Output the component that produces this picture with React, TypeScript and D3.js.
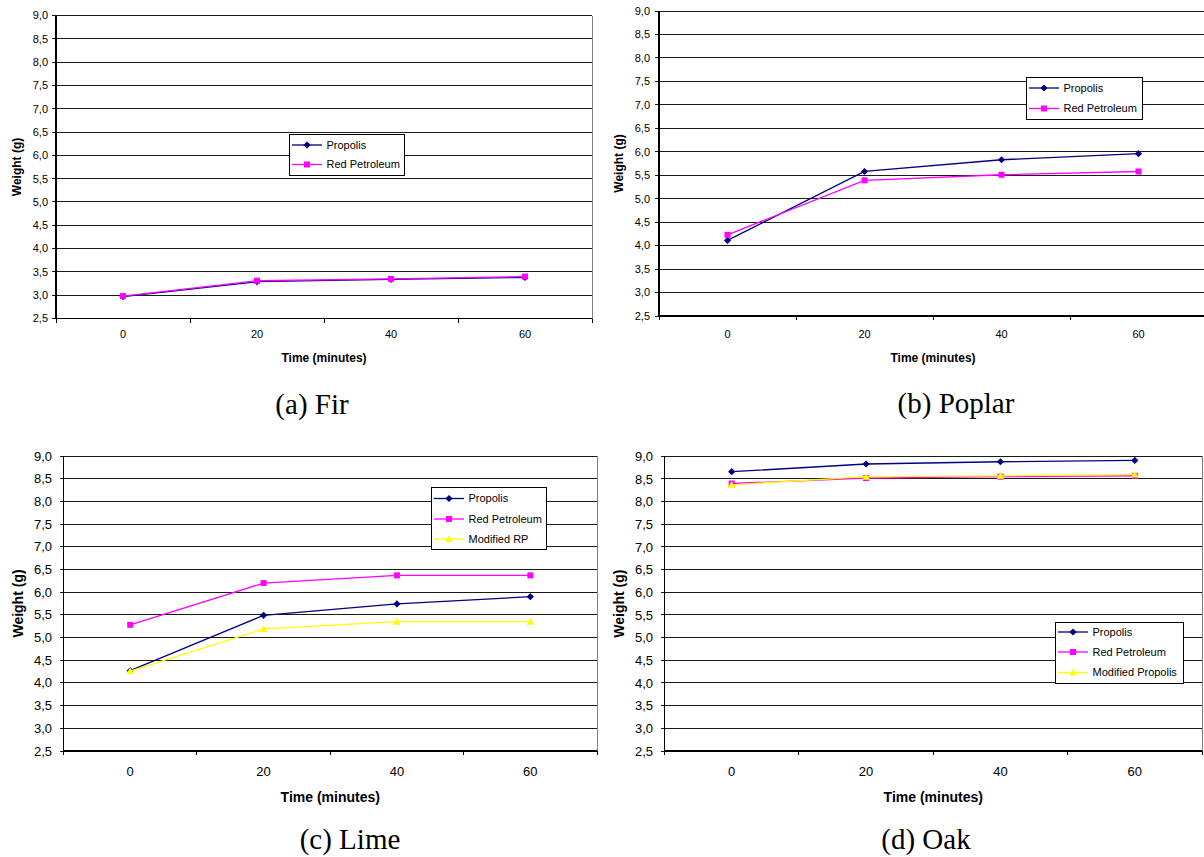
import React from "react";
import * as d3 from "d3";

const times = ["0", "20", "40", "60"];
const yTicks = [2.5, 3.0, 3.5, 4.0, 4.5, 5.0, 5.5, 6.0, 6.5, 7.0, 7.5, 8.0, 8.5, 9.0];

const firPropolis = [2.97, 3.29, 3.34, 3.38];
const firRedPetroleum = [2.98, 3.31, 3.35, 3.40];

const poplarPropolis = [4.11, 5.58, 5.83, 5.96];
const poplarRedPetroleum = [4.23, 5.39, 5.51, 5.58];

const limePropolis = [4.27, 5.49, 5.74, 5.9];
const limeRedPetroleum = [5.28, 6.2, 6.37, 6.37];
const limeModifiedRP = [4.26, 5.19, 5.35, 5.35];

const oakPropolis = [8.66, 8.83, 8.88, 8.91];
const oakRedPetroleum = [8.4, 8.52, 8.55, 8.57];
const oakModifiedPropolis = [8.37, 8.55, 8.57, 8.6];

const NAVY = "#000080";
const MAGENTA = "#FF00FF";
const YELLOW = "#FFFF00";

type Series = { name: string; values: number[]; color: string; marker: "diamond" | "square" | "triangle" };

function markerPath(kind: string) {
  if (kind === "diamond") return "M0,-3.6L3.6,0L0,3.6L-3.6,0Z";
  if (kind === "square") return "M-3,-3L3,-3L3,3L-3,3Z";
  return "M0,-3.8L3.8,3L-3.8,3Z";
}

type PanelProps = {
  series: Series[];
  x0: number; x1: number; y0: number; y1: number;
  tickFont: number; titleFont: number;
  yLabelRight: number; xLabelY: number;
  yTitleX: number; xTitleY: number;
  legend: { x: number; y: number; w: number; h: number; rows: number[] };
  caption: string; capX: number; capY: number;
  clipRight?: number;
};

function Panel(p: PanelProps) {
  const x = d3.scaleBand<string>().domain(times).range([p.x0, p.x1]).paddingInner(0).paddingOuter(0);
  const y = d3.scaleLinear().domain([2.5, 9]).range([p.y1, p.y0]);
  const line = d3
    .line<number>()
    .x((_, i) => (x(times[i]) as number) + x.bandwidth() / 2)
    .y((v) => y(v));
  const bounds = [...times.map((t) => x(t) as number), p.x1];
  return (
    <g>
      {yTicks.map((t) => (
        <g key={t}>
          <line x1={p.x0 - 4} x2={p.x1} y1={y(t)} y2={y(t)} stroke="#1a1a1a" strokeWidth={1} shapeRendering="crispEdges" />
          <text x={p.yLabelRight} y={y(t)} dy="0.35em" textAnchor="end" fontSize={p.tickFont} fontFamily="Liberation Sans, Arial, sans-serif">
            {d3.format(".1f")(t).replace(".", ",")}
          </text>
        </g>
      ))}
      <line x1={p.x1} x2={p.x1} y1={p.y0} y2={p.y1} stroke="#808080" strokeWidth={1} shapeRendering="crispEdges" />
      <line x1={p.x0} x2={p.x0} y1={p.y0} y2={p.y1} stroke="#000" strokeWidth={1.2} shapeRendering="crispEdges" />
      <line x1={p.x0} x2={p.x1} y1={p.y1} y2={p.y1} stroke="#000" strokeWidth={1.2} shapeRendering="crispEdges" />
      {bounds.map((b, i) => (
        <line key={i} x1={b} x2={b} y1={p.y1} y2={p.y1 + 4} stroke="#000" strokeWidth={1} shapeRendering="crispEdges" />
      ))}
      {times.map((t) => (
        <text key={t} x={(x(t) as number) + x.bandwidth() / 2} y={p.xLabelY} dy="0.35em" textAnchor="middle" fontSize={p.tickFont} fontFamily="Liberation Sans, Arial, sans-serif">
          {t}
        </text>
      ))}
      {p.series.map((s) => (
        <g key={s.name}>
          <path d={line(s.values) || ""} fill="none" stroke={s.color} strokeWidth={1.3} />
          {s.values.map((v, i) => (
            <path key={i} d={markerPath(s.marker)} transform={`translate(${(x(times[i]) as number) + x.bandwidth() / 2},${y(v)})`} fill={s.color} />
          ))}
        </g>
      ))}
      <text x={(p.x0 + p.x1) / 2} y={p.xTitleY} dy="0.35em" textAnchor="middle" fontWeight="bold" fontSize={p.titleFont} fontFamily="Liberation Sans, Arial, sans-serif">
        Time (minutes)
      </text>
      <text transform={`translate(${p.yTitleX},${(p.y0 + p.y1) / 2}) rotate(-90)`} dy="0.35em" textAnchor="middle" fontWeight="bold" fontSize={p.titleFont} fontFamily="Liberation Sans, Arial, sans-serif">
        Weight (g)
      </text>
      <rect x={p.legend.x} y={p.legend.y} width={p.legend.w} height={p.legend.h} fill="#fff" stroke="#000" strokeWidth={1} shapeRendering="crispEdges" />
      {p.series.map((s, i) => {
        const ry = p.legend.rows[i];
        return (
          <g key={s.name}>
            <line x1={p.legend.x + 3} x2={p.legend.x + 33} y1={ry} y2={ry} stroke={s.color} strokeWidth={1.3} />
            <path d={markerPath(s.marker)} transform={`translate(${p.legend.x + 18},${ry})`} fill={s.color} />
            <text x={p.legend.x + 37.5} y={ry} dy="0.35em" fontSize={11} fontFamily="Liberation Sans, Arial, sans-serif">
              {s.name}
            </text>
          </g>
        );
      })}
      <text x={p.capX} y={p.capY} textAnchor="middle" fontSize={29} fontFamily="Liberation Serif, Times New Roman, serif">
        {p.caption}
      </text>
    </g>
  );
}

export default function App() {
  const fir: Series[] = [
    { name: "Propolis", values: firPropolis, color: NAVY, marker: "diamond" },
    { name: "Red Petroleum", values: firRedPetroleum, color: MAGENTA, marker: "square" },
  ];
  const poplar: Series[] = [
    { name: "Propolis", values: poplarPropolis, color: NAVY, marker: "diamond" },
    { name: "Red Petroleum", values: poplarRedPetroleum, color: MAGENTA, marker: "square" },
  ];
  const lime: Series[] = [
    { name: "Propolis", values: limePropolis, color: NAVY, marker: "diamond" },
    { name: "Red Petroleum", values: limeRedPetroleum, color: MAGENTA, marker: "square" },
    { name: "Modified RP", values: limeModifiedRP, color: YELLOW, marker: "triangle" },
  ];
  const oak: Series[] = [
    { name: "Propolis", values: oakPropolis, color: NAVY, marker: "diamond" },
    { name: "Red Petroleum", values: oakRedPetroleum, color: MAGENTA, marker: "square" },
    { name: "Modified Propolis", values: oakModifiedPropolis, color: YELLOW, marker: "triangle" },
  ];
  return (
    <svg width={1204} height={857} style={{ position: "absolute", left: 0, top: 0, background: "#fff" }}>
      <rect x={0} y={0} width={1204} height={857} fill="#fff" />
      <Panel
        series={fir}
        x0={56} x1={592} y0={15.5} y1={318.5}
        tickFont={11} titleFont={12}
        yLabelRight={48} xLabelY={334}
        yTitleX={17} xTitleY={358}
        legend={{ x: 289, y: 134, w: 115, h: 41, rows: [145, 164.5] }}
        caption="(a) Fir" capX={312} capY={414}
      />
      <Panel
        series={poplar}
        x0={659} x1={1207} y0={11} y1={316}
        tickFont={11} titleFont={12}
        yLabelRight={650} xLabelY={334}
        yTitleX={619} xTitleY={358}
        legend={{ x: 1026, y: 77, w: 116, h: 42, rows: [88, 108.5] }}
        caption="(b) Poplar" capX={956} capY={413}
      />
      <Panel
        series={lime}
        x0={63.5} x1={597} y0={456} y1={751}
        tickFont={13} titleFont={14}
        yLabelRight={52} xLabelY={771}
        yTitleX={18} xTitleY={797}
        legend={{ x: 431, y: 487, w: 115, h: 62, rows: [498.5, 519, 539] }}
        caption="(c) Lime" capX={350} capY={849}
      />
      <Panel
        series={oak}
        x0={664.5} x1={1202} y0={456.3} y1={751}
        tickFont={13} titleFont={14}
        yLabelRight={653} xLabelY={771}
        yTitleX={619} xTitleY={797}
        legend={{ x: 1055, y: 622, w: 128, h: 61, rows: [632, 652, 672.5] }}
        caption="(d) Oak" capX={926} capY={849}
      />
    </svg>
  );
}
